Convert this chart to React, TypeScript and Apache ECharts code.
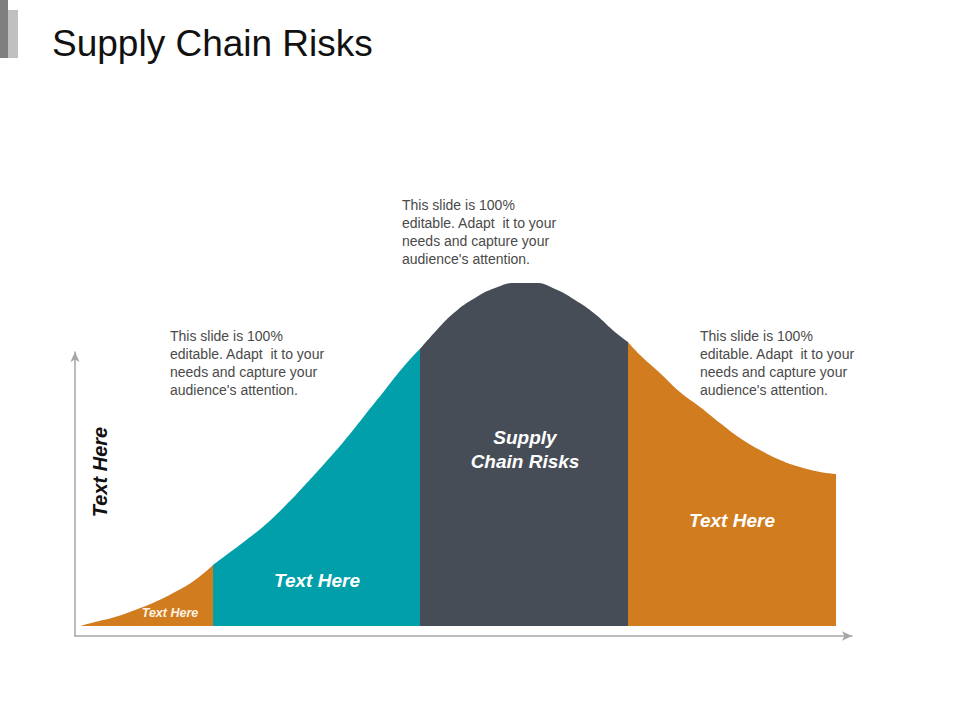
import React, { useEffect, useRef } from "react";
import * as echarts from "echarts";

// x = horizontal position along the distribution, y = height of the curve
const segLeftTail: [number, number][] = [
  [0, 0], [15, 4], [35, 9], [55, 16], [75, 24], [95, 34], [115, 46], [133, 61],
];
const segRise: [number, number][] = [
  [133, 61], [145, 70], [165, 85], [185, 101], [205, 120], [225, 141], [245, 163],
  [265, 186], [285, 211], [305, 236], [325, 261], [340, 277],
];
const segPeak: [number, number][] = [
  [340, 277], [355, 294], [375, 314], [395, 328], [415, 338], [435, 343], [455, 343],
  [475, 337], [495, 326], [515, 312], [535, 294], [548, 284],
];
const segRightTail: [number, number][] = [
  [548, 284], [560, 271], [580, 253], [600, 234], [620, 219], [640, 203], [660, 188],
  [680, 176], [700, 166], [720, 159], [740, 154], [756, 152],
];

const segmentColors = ["#D17C1F", "#019FA9", "#474D57", "#D17C1F"];
const segmentNames = ["Text Here", "Text Here", "Supply\nChain Risks", "Text Here"];

const titleText = "Supply Chain Risks";
const axisTitle = "Text Here";
const paragraph = "This slide is 100%\neditable. Adapt  it to your\nneeds and capture your\naudience's attention.";

export default function App() {
  const ref = useRef<HTMLDivElement>(null);
  useEffect(() => {
    if (!ref.current) return;
    const chart = echarts.init(ref.current, undefined, { renderer: "svg" });
    const font = "'Liberation Sans', Arial, sans-serif";
    const segs = [segLeftTail, segRise, segPeak, segRightTail];
    const boldLabel = (text: string, x: number, y: number, size: number, fill = "#ffffff") => ({
      type: "text",
      x,
      y,
      z: 100,
      style: {
        text,
        fill,
        font: `italic bold ${size}px ${font}`,
        textAlign: "center",
        textVerticalAlign: "middle",
        lineHeight: 24,
      },
    });
    const para = (x: number, y: number) => ({
      type: "text",
      x,
      y,
      z: 100,
      style: {
        text: paragraph,
        fill: "#4a4a4a",
        font: `14px ${font}`,
        lineHeight: 18,
        textAlign: "left",
        textVerticalAlign: "top",
      },
    });
    chart.setOption({
      animation: false,
      backgroundColor: "#ffffff",
      title: {
        text: titleText,
        left: 47,
        top: 20,
        textStyle: { fontSize: 37, fontWeight: "normal", color: "#111111", fontFamily: font },
      },
      grid: { left: 75, right: 108, top: 352, bottom: 84 },
      xAxis: {
        type: "value",
        min: -5,
        max: 772,
        axisLine: {
          show: true,
          onZero: false,
          symbol: ["none", "arrow"],
          symbolSize: [7, 10],
          lineStyle: { color: "#A6A6A6", width: 1.5 },
        },
        axisTick: { show: false },
        axisLabel: { show: false },
        splitLine: { show: false },
      },
      yAxis: {
        type: "value",
        min: -10,
        max: 274,
        axisLine: {
          show: true,
          onZero: false,
          symbol: ["none", "arrow"],
          symbolSize: [7, 10],
          lineStyle: { color: "#A6A6A6", width: 1.5 },
        },
        axisTick: { show: false },
        axisLabel: { show: false },
        splitLine: { show: false },
      },
      series: segs.map((d, i) => ({
        type: "line",
        name: segmentNames[i],
        data: d,
        smooth: 0.5,
        clip: false,
        symbol: "none",
        lineStyle: { width: 0, color: segmentColors[i] },
        itemStyle: { color: segmentColors[i] },
        areaStyle: { color: segmentColors[i], opacity: 1 },
      })),
      graphic: [
        { type: "rect", shape: { x: 0, y: 0, width: 8, height: 58 }, style: { fill: "#7F7F7F" } },
        { type: "rect", shape: { x: 8, y: 10, width: 10, height: 48 }, style: { fill: "#C0C0C0" } },
        {
          type: "text",
          x: 100,
          y: 472,
          z: 100,
          rotation: Math.PI / 2,
          style: {
            text: axisTitle,
            fill: "#111111",
            font: `italic bold 20px ${font}`,
            textAlign: "center",
            textVerticalAlign: "middle",
          },
        },
        para(170, 327),
        para(402, 196),
        para(700, 327),
        boldLabel(segmentNames[0], 170, 613, 12.5, "#FDF3E3"),
        boldLabel(segmentNames[1], 317, 580, 19),
        boldLabel(segmentNames[2], 525, 449, 19),
        boldLabel(segmentNames[3], 732, 520, 19),
      ],
    });
    return () => chart.dispose();
  }, []);
  return (
    <div
      ref={ref}
      style={{ position: "fixed", left: 0, top: 0, width: 960, height: 720, background: "#ffffff" }}
    />
  );
}
